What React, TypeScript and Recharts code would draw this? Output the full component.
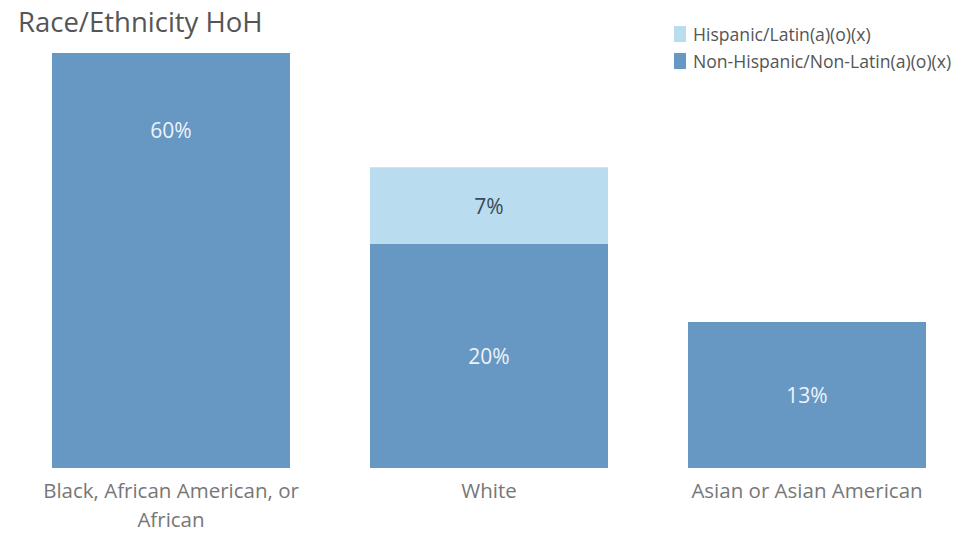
import { BarChart, Bar, XAxis, YAxis, LabelList } from "recharts";

// categories and series values (bar heights)
const categories = [
  "Black, African American, or African",
  "White",
  "Asian or Asian American",
];
const nonHispanic = [60, 32.4, 21.1];
const hispanic = [0, 11.1, 0];
const nonHispanicLabels = ["60%", "20%", "13%"];
const hispanicLabels = ["", "7%", ""];

const DARK = "#6798c3";
const LIGHT = "#b9dcef";
const FONT = "'Open Sans', sans-serif";
const MAX_CHARS = 28;

const data = categories.map((name, i) => ({
  name,
  nonHispanic: nonHispanic[i],
  hispanic: hispanic[i],
  nhLabel: nonHispanicLabels[i],
  hLabel: hispanicLabels[i],
}));

// greedy word wrap for the category labels
const wrap = (s: string) => {
  const lines: string[] = [];
  let cur = "";
  s.split(" ").forEach((w) => {
    const next = cur ? cur + " " + w : w;
    if (next.length > MAX_CHARS && cur) {
      lines.push(cur);
      cur = w;
    } else {
      cur = next;
    }
  });
  if (cur) lines.push(cur);
  return lines;
};

const renderTick = (props: any) => {
  const { x, y, payload } = props;
  return (
    <text
      x={x}
      y={y + 22}
      textAnchor="middle"
      fill="#777"
      fontSize={20.5}
      fontFamily={FONT}
    >
      {wrap(payload.value).map((line, i) => (
        <tspan key={i} x={x} dy={i === 0 ? 0 : 29}>
          {line}
        </tspan>
      ))}
    </text>
  );
};

const makeLabel = (color: string) => (props: any) => {
  const { x, y, width, height, value } = props;
  if (!value) return null;
  // tall bars get the label near the top, like the original
  const cy = height > 300 ? y + 77 : y + height / 2;
  return (
    <text
      x={x + width / 2}
      y={cy}
      fill={color}
      fontSize={21}
      fontFamily={FONT}
      textAnchor="middle"
      dominantBaseline="central"
    >
      {value}
    </text>
  );
};

const legendItems = [
  { name: "Hispanic/Latin(a)(o)(x)", color: LIGHT },
  { name: "Non-Hispanic/Non-Latin(a)(o)(x)", color: DARK },
];

export default function App() {
  return (
    <div
      style={{
        position: "absolute",
        left: 0,
        top: 0,
        width: 962,
        height: 539,
        overflow: "hidden",
        background: "#fff",
      }}
    >
      <div
        style={{
          position: "absolute",
          left: 18,
          top: 3,
          fontSize: 27.5,
          color: "#555",
          fontFamily: FONT,
        }}
      >
        Race/Ethnicity HoH
      </div>
      <div style={{ position: "absolute", left: 674, top: 20, fontFamily: FONT }}>
        {legendItems.map((item) => (
          <div
            key={item.name}
            style={{ display: "flex", alignItems: "center", height: 27 }}
          >
            <span
              style={{
                width: 12,
                height: 16,
                background: item.color,
                marginRight: 7,
              }}
            />
            <span style={{ fontSize: 17.6, color: "#555" }}>{item.name}</span>
          </div>
        ))}
      </div>
      <BarChart
        width={966}
        height={539}
        data={data}
        margin={{ top: 53, right: 0, bottom: 0, left: 12 }}
        barCategoryGap={40}
      >
        <XAxis
          dataKey="name"
          axisLine={false}
          tickLine={false}
          tick={renderTick}
          interval={0}
          height={71}
        />
        <YAxis hide domain={[0, 60]} />
        <Bar
          dataKey="nonHispanic"
          stackId="a"
          fill={DARK}
          isAnimationActive={false}
        >
          <LabelList dataKey="nhLabel" content={makeLabel("#eef3f9")} />
        </Bar>
        <Bar
          dataKey="hispanic"
          stackId="a"
          fill={LIGHT}
          isAnimationActive={false}
        >
          <LabelList dataKey="hLabel" content={makeLabel("#3a4a58")} />
        </Bar>
      </BarChart>
    </div>
  );
}
